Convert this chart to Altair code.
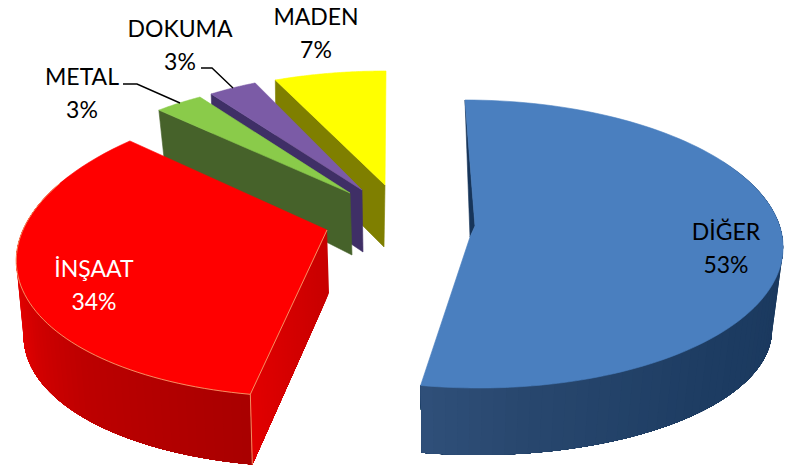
import math
import altair as alt

names = ["DİĞER", "İNŞAAT", "METAL", "DOKUMA", "MADEN"]
shares = [53, 34, 3, 3, 7]
label_lines = [f"{s}%" for s in shares]

# layout of each exploded slice: top/bottom ellipse (cx, cy, rx, ry, shear) and hub points
LAYOUT = {
    "DİĞER": dict(top=(472, 244, 311, 144, 7), bot=(472, 327, 300, 128, 6), hub=(475, 226), hub2=(470, 237)),
    "İNŞAAT": dict(top=(345, 245, 327, 152, -34), bot=(341, 322, 316, 145, -30), hub=(327, 230), hub2=(329, 293)),
    "METAL": dict(top=(371, 182, 291, 105, 0), bot=(372, 232, 285, 105, 0), hub=(350, 193), hub2=(352, 255)),
    "DOKUMA": dict(top=(371, 187, 272, 115, 0), bot=(371, 240, 268, 110, 0), hub=(362, 190), hub2=(363, 252)),
    "MADEN": dict(top=(386, 166, 260, 95, 0), bot=(385, 225, 256, 95, 0), hub=(385, 185), hub2=(384, 247)),
}
TOP_COL = {"DİĞER": "#4a7fbf", "İNŞAAT": "#ff0000", "METAL": "#8acb4a", "DOKUMA": "#7b5ba6", "MADEN": "#ffff00"}
FACE_COL = {"METAL": "#46622a", "DOKUMA": "#3f2f66", "MADEN": "#7f7f00"}
LABEL_POS = {"DİĞER": (726, 232, "black"), "İNŞAAT": (94, 269, "white"), "METAL": (82, 77, "black"),
             "DOKUMA": (180, 29, "black"), "MADEN": (316, 17, "black")}
LINE_GAP = 33
CAP_HALF = 8


def pt(e, a):
    cx, cy, rx, ry, sh = e
    u, v = math.sin(a), -math.cos(a)
    return [cx + rx * u + sh * v, cy + ry * v]


def rgb(c):
    return [int(c[i:i + 2], 16) for i in (1, 3, 5)]


def ramp(stops, t):
    for (t0, c0), (t1, c1) in zip(stops, stops[1:]):
        if t <= t1:
            f = (t - t0) / (t1 - t0) if t1 > t0 else 0
            return "#%02x%02x%02x" % tuple(round(a + (b - a) * f) for a, b in zip(rgb(c0), rgb(c1)))
    return stops[-1][1]


features = []


def poly(points, color, stroke=None, w=0.6):
    ring = [list(p) for p in points] + [list(points[0])]
    features.append({"type": "Feature", "geometry": {"type": "Polygon", "coordinates": [ring]},
                     "properties": {"fill": color, "stroke": stroke or color, "w": w}})


def line(points, color, w):
    features.append({"type": "Feature", "geometry": {"type": "LineString", "coordinates": [list(p) for p in points]},
                     "properties": {"fill": "transparent", "stroke": color, "w": w}})


def arc(e, a0, a1, n=60):
    return [pt(e, a0 + (a1 - a0) * i / n) for i in range(n + 1)]


def band(e1, e2, a0, a1, color):
    poly(arc(e1, a0, a1) + arc(e2, a0, a1)[::-1], color, "transparent", 0)


# angular span of every slice, clockwise from the top
spans = {}
acc = 0
for nm, s in zip(names, shares):
    spans[nm] = (acc / 100 * 2 * math.pi, (acc + s) / 100 * 2 * math.pi)
    acc += s

# back slices first: radial face, then top
for nm in ["MADEN", "DOKUMA", "METAL"]:
    L = LAYOUT[nm]
    a0, a1 = spans[nm]
    poly([L["hub"], pt(L["top"], a0), pt(L["bot"], a0), L["hub2"]], FACE_COL[nm])
    poly([L["hub"]] + arc(L["top"], a0, a1), TOP_COL[nm])

N = 60
mix = lambda p, q, t: [p[0] + (q[0] - p[0]) * t, p[1] + (q[1] - p[1]) * t]

# red slice: painter's bands, each running on to the end of the rim
L = LAYOUT["İNŞAAT"]
a0, a1 = spans["İNŞAAT"]
rim_start, rim_end = a0, a0 + 1.85
for i in range(N):
    t0 = i / N
    # walk from the left end of the rim towards the corner so that each band overlaps the next
    b0 = rim_end - (rim_end - rim_start) * t0
    col = ramp([(0, "#f40000"), (0.25, "#ee0000"), (0.65, "#bd0000"), (1, "#a80000")], t0)
    band(L["top"], L["bot"], rim_start, b0, col)
c_top, c_bot = pt(L["top"], a0), pt(L["bot"], a0)
for i in range(N):
    t0 = i / N
    poly([mix(L["hub"], c_top, t0), c_top, c_bot, mix(L["hub2"], c_bot, t0)],
         ramp([(0, "#c80000"), (1, "#e20000")], t0), "transparent", 0)
poly([L["hub"]] + arc(L["top"], a0, a1), TOP_COL["İNŞAAT"])
line([pt(L["top"], a0 + 1.8 * i / 60) for i in range(60, -1, -1)] + [L["hub"]], "#f2b27a", 0.8)
line([c_top, c_bot], "#f2b27a", 0.8)

# blue slice
L = LAYOUT["DİĞER"]
a0, a1 = spans["DİĞER"]
rim_start = math.radians(55)
for i in range(N):
    t0 = i / N
    b0 = rim_start + (a1 - rim_start) * t0
    col = ramp([(0, "#17355a"), (0.55, "#1d3c62"), (0.85, "#28476e"), (1, "#30507a")], t0)
    band(L["top"], L["bot"], b0, a1, col)
# the sliver of the hidden radial face beside the hub
corner = pt(L["top"], a0)
poly([corner, mix(corner, L["hub2"], 0.36), L["hub2"], L["hub"]], "#17355a")
poly(arc(L["top"], a0, a1, 120) + [L["hub2"], L["hub"]], TOP_COL["DİĞER"])

# leader lines
line([(123, 84), (137, 84), (180, 103)], "#000000", 1.4)
line([(201, 68), (212, 68), (233, 88)], "#000000", 1.4)

shapes = alt.Chart(alt.Data(values=features)).mark_geoshape().encode(
    fill=alt.Fill("properties.fill:N", scale=None),
    stroke=alt.Stroke("properties.stroke:N", scale=None),
    strokeWidth=alt.StrokeWidth("properties.w:Q", scale=None),
).project(type="identity", scale=1, translate=[-8, -8])

rows = []
for nm, pct in zip(names, label_lines):
    x, y, col = LABEL_POS[nm]
    rows.append({"t": nm, "x": x - 8, "y": y - 8 + CAP_HALF, "c": col})
    rows.append({"t": pct, "x": x - 8, "y": y - 8 + CAP_HALF + LINE_GAP, "c": col})

labels = alt.Chart(alt.Data(values=rows)).mark_text(font="Lato", fontSize=23, align="center", baseline="alphabetic").encode(
    x=alt.X("x:Q", scale=None, axis=None),
    y=alt.Y("y:Q", scale=None, axis=None),
    text="t:N",
    color=alt.Color("c:N", scale=None),
)

chart = alt.layer(shapes, labels).properties(
    width=776, height=458, padding=0, autosize=alt.AutoSizeParams(type="none")
).configure_view(stroke=None)

chart.save("out.html", embed_options={"renderer": "svg", "actions": False})
